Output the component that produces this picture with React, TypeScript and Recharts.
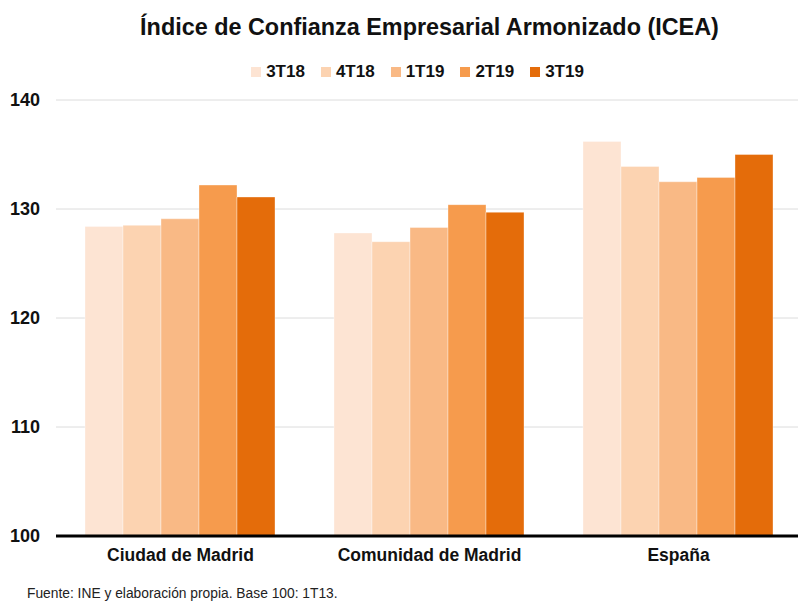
import React from "react";
import {
  BarChart,
  Bar,
  CartesianGrid,
  XAxis,
  YAxis,
} from "recharts";

const regions = ["Ciudad de Madrid", "Comunidad de Madrid", "España"];
const t3_18 = [128.4, 127.8, 136.2];
const t4_18 = [128.5, 127.0, 133.9];
const t1_19 = [129.1, 128.3, 132.5];
const t2_19 = [132.2, 130.4, 132.9];
const t3_19 = [131.1, 129.7, 135.0];
const yTicks = [100, 110, 120, 130, 140];

const seriesNames = ["3T18", "4T18", "1T19", "2T19", "3T19"];
const seriesColors = ["#fde4d3", "#fcd3b1", "#f9b985", "#f69b4d", "#e46c0a"];

const data = regions.map((name, i) => ({
  name,
  "3T18": t3_18[i],
  "4T18": t4_18[i],
  "1T19": t1_19[i],
  "2T19": t2_19[i],
  "3T19": t3_19[i],
}));

const font = "'Liberation Sans', Arial, Helvetica, sans-serif";

const LegendContent = () => (
  <div
    style={{
      position: "absolute",
      top: 62,
      left: 0,
      width: 835,
      display: "flex",
      justifyContent: "center",
      gap: 16,
      fontFamily: font,
      fontWeight: "bold",
      fontSize: 17,
      color: "#111",
    }}
  >
    {seriesNames.map((s, i) => (
      <div key={s} style={{ display: "flex", alignItems: "center" }}>
        <span
          style={{
            width: 10,
            height: 10,
            background: seriesColors[i],
            marginRight: 5,
            display: "inline-block",
          }}
        />
        {s}
      </div>
    ))}
  </div>
);

const App = (): JSX.Element => {
  return (
    <div
      style={{
        position: "absolute",
        left: 0,
        top: 0,
        width: 798,
        height: 603,
        overflow: "hidden",
        background: "#fff",
      }}
    >
      <BarChart
        width={803}
        height={603}
        data={data}
        margin={{ top: 100, right: 0, bottom: 37, left: 0 }}
        barCategoryGap={29}
        barGap={0}
      >
        <CartesianGrid vertical={false} stroke="#dcdcdc" strokeWidth={1} />
        <XAxis
          dataKey="name"
          axisLine={{ stroke: "#000", strokeWidth: 3 }}
          tickLine={false}
          tickSize={0}
          tickMargin={13}
          height={30}
          tick={{ fill: "#111", fontFamily: font, fontWeight: "bold", fontSize: 17.5 }}
        />
        <YAxis
          domain={[100, 140]}
          ticks={yTicks}
          width={56}
          axisLine={false}
          tickLine={false}
          tickSize={0}
          tickMargin={16}
          tick={{ fill: "#111", fontFamily: font, fontWeight: "bold", fontSize: 18 }}
        />
        {seriesNames.map((s, i) => (
          <Bar
            key={s}
            dataKey={s}
            fill={seriesColors[i]}
            stroke="rgba(255,255,255,0.35)"
            strokeWidth={1}
            isAnimationActive={false}
          />
        ))}
      </BarChart>
      <div
        style={{
          position: "absolute",
          top: 14,
          left: 56,
          width: 747,
          textAlign: "center",
          fontFamily: font,
          fontWeight: "bold",
          fontSize: 23.4,
          color: "#111",
        }}
      >
        Índice de Confianza Empresarial Armonizado (ICEA)
      </div>
      <LegendContent />
      <div
        style={{
          position: "absolute",
          top: 586,
          left: 27,
          fontFamily: font,
          fontSize: 13.8,
          color: "#222",
        }}
      >
        Fuente: INE y elaboración propia. Base 100: 1T13.
      </div>
    </div>
  );
};

export default App;
